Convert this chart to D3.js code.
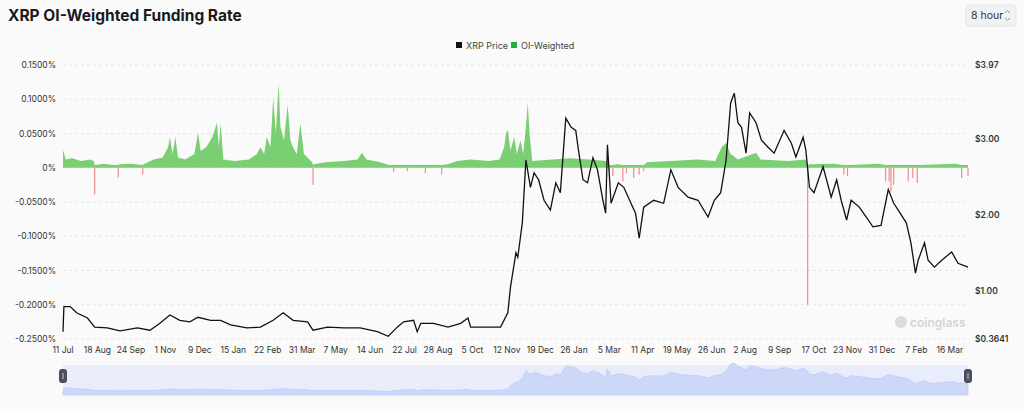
<!DOCTYPE html>
<html><head><meta charset="utf-8">
<script src="https://cdn.jsdelivr.net/npm/d3@7/dist/d3.min.js"></script>
<style>body{margin:0;background:#fafafa;font-family:"Inter","Noto Sans",sans-serif}</style>
</head><body><svg id="c" width="1024" height="411"></svg>
<script>
const tickLabels = ["11 Jul","18 Aug","24 Sep","1 Nov","9 Dec","15 Jan","22 Feb","31 Mar","7 May","14 Jun","22 Jul","28 Aug","5 Oct","12 Nov","19 Dec","26 Jan","5 Mar","11 Apr","19 May","26 Jun","2 Aug","9 Sep","17 Oct","23 Nov","31 Dec","7 Feb","16 Mar"];
const tickDays = [0,38,75,113,151,188,226,264,301,339,377,414,452,490,527,564,603,640,678,716,753,791,829,866,904,942,979];
const leftTicks = [0.15,0.10,0.05,0,-0.05,-0.10,-0.15,-0.20,-0.25];
const rightTicks = [3.97,3.00,2.00,1.00,0.3641];
const priceDays = [0,1,8,15,27,35,49,63,82,96,107,118,129,140,149,163,174,185,203,218,232,243,254,270,276,292,310,328,347,359,369,376,387,391,395,409,425,439,447,450,469,483,491,494,500,502,507,511,516,520,525,531,538,544,549,555,561,566,569,574,579,585,590,596,599,601,605,613,619,627,632,636,641,652,663,671,679,690,701,712,719,726,732,737,741,745,749,754,758,765,771,778,785,796,804,809,817,820,824,829,839,848,854,859,865,870,879,889,894,903,911,917,922,931,936,941,944,951,955,962,970,981,988,999];
const priceVals = [0.46,0.79,0.79,0.71,0.64,0.52,0.51,0.47,0.51,0.48,0.57,0.68,0.61,0.59,0.65,0.61,0.61,0.55,0.51,0.52,0.61,0.71,0.61,0.59,0.48,0.52,0.51,0.51,0.46,0.40,0.52,0.59,0.61,0.46,0.57,0.57,0.52,0.57,0.64,0.52,0.52,0.52,0.71,1.05,1.50,1.44,1.89,2.72,2.36,2.55,2.46,2.19,2.06,2.42,2.29,3.27,3.15,3.11,2.85,2.46,2.42,2.75,2.59,2.19,2.02,2.92,2.15,2.42,2.36,2.15,2.02,1.69,2.10,2.19,2.15,2.59,2.36,2.23,2.19,1.97,2.19,2.29,2.72,3.47,3.60,3.21,3.15,2.81,3.34,3.21,2.98,2.89,2.81,3.11,2.94,2.76,3.02,2.85,2.36,2.29,2.63,2.23,2.46,2.19,1.93,2.19,2.10,1.93,1.84,1.86,2.33,2.15,2.06,1.89,1.63,1.23,1.40,1.63,1.40,1.31,1.40,1.51,1.36,1.31];
const fundDays = [0,3,10,20,30,34,35,36,45,55,61,62,75,88,89,100,110,116,118,121,124,127,135,145,149,152,158,165,170,172,174,177,190,205,214,218,222,225,229,232,235,238,240,244,248,251,254,258,262,266,272,275,276,277,290,310,325,330,335,350,360,365,370,380,390,400,410,418,425,435,450,470,482,487,489,491,494,498,501,505,508,511,513,515,518,540,560,580,600,603,607,612,618,622,630,636,641,645,670,700,720,727,732,737,745,765,770,800,820,822,824,850,862,866,870,900,908,912,914,917,921,933,938,943,946,985,992,999];
const fundVals = [0.026,0.012,0.014,0.01,0.012,0.01,-0.039,0.004,0.006,0.003,-0.014,0.005,0.006,-0.01,0.005,0.012,0.015,0.03,0.044,0.02,0.045,0.015,0.012,0.02,0.051,0.025,0.03,0.045,0.066,0.03,0.065,0.012,0.01,0.012,0.02,0.03,0.02,0.045,0.03,0.102,0.05,0.124,0.06,0.04,0.092,0.04,0.03,0.02,0.065,0.02,0.012,0.008,-0.025,0.005,0.008,0.01,0.012,0.022,0.012,0.008,0.004,-0.006,0.004,-0.005,0.003,-0.008,0.004,-0.01,0.005,0.01,0.012,0.01,0.012,0.03,0.05,0.055,0.025,0.045,0.02,0.04,0.02,0.06,0.095,0.05,0.01,0.012,0.014,0.012,0.01,-0.005,-0.012,0.005,-0.02,-0.008,-0.015,-0.01,-0.005,0.008,0.01,0.012,0.01,0.03,0.036,0.02,0.012,0.022,0.012,0.01,0.012,-0.2,0.005,0.006,-0.01,-0.012,0.004,0.006,-0.02,-0.02,-0.035,-0.025,0.003,-0.02,-0.015,-0.022,0.004,0.006,-0.015,-0.012];

const svg = d3.select("#c");
const L=63, R=968, T=65, B=339;
const x = d3.scaleLinear().domain([0,999]).range([L,R]);
const yF = d3.scaleLinear().domain([-0.25,0.15]).range([B,T]);
const yP = d3.scaleLinear().domain([0.3641,3.97]).range([B,T]);

svg.append("text").attr("x",8).attr("y",21).text("XRP OI-Weighted Funding Rate").attr("font-size",15.5).attr("font-weight",700).attr("fill","#1a1a1a");
const btn=svg.append("g");
btn.append("rect").attr("x",966).attr("y",5).attr("width",50).attr("height",21).attr("rx",3).attr("fill","#f1f2f4").attr("stroke","#e2e4e8");
btn.append("text").attr("x",971).attr("y",19).text("8 hour").attr("font-size",10.5).attr("fill","#333");
btn.append("path").attr("d","M1005,13 l2.5,-2.5 l2.5,2.5 M1005,18 l2.5,2.5 l2.5,-2.5").attr("fill","none").attr("stroke","#888").attr("stroke-width",0.9);

const lg=svg.append("g").attr("font-size",9).attr("fill","#444");
lg.append("rect").attr("x",456).attr("y",42).attr("width",6).attr("height",6).attr("fill","#111");
lg.append("text").attr("x",466).attr("y",49).text("XRP Price");
lg.append("rect").attr("x",511).attr("y",42).attr("width",6).attr("height",6).attr("fill","#27ae3f");
lg.append("text").attr("x",521).attr("y",49).text("OI-Weighted");

svg.append("g").selectAll("line").data(leftTicks).join("line")
 .attr("x1",L).attr("x2",R).attr("y1",d=>yF(d)).attr("y2",d=>yF(d))
 .attr("stroke","#e6e6e6").attr("stroke-dasharray","3,3");
svg.append("g").selectAll("text").data(leftTicks).join("text")
 .attr("x",56).attr("y",d=>yF(d)+3).attr("text-anchor","end").attr("font-size",8.5).attr("fill","#333")
 .text(d=>d===0?"0%":d.toFixed(4)+"%");
svg.append("g").selectAll("text").data(rightTicks).join("text")
 .attr("x",975).attr("y",d=>yP(d)+3).attr("font-size",8.5).attr("fill","#333").attr("font-weight",600)
 .text(d=>"$"+(d===0.3641?"0.3641":d.toFixed(2)));
svg.append("g").selectAll("text").data(tickDays).join("text")
 .attr("x",d=>x(d)).attr("y",353).attr("text-anchor","middle").attr("font-size",8.5).attr("fill","#333")
 .text((d,i)=>tickLabels[i]);

// funding: positive as area, negatives as thin spikes
const fd = fundDays.map((d,i)=>({d,v:fundVals[i]}));
const pos = fd.map(p=>({d:p.d,v:Math.max(p.v,0.004)}));
svg.append("path").attr("d",d3.area().x(p=>x(p.d)).y0(yF(0)).y1(p=>yF(p.v))(pos)).attr("fill","#7acf72");
svg.append("g").selectAll("rect").data(fd.filter(p=>p.v<0)).join("rect")
 .attr("x",p=>x(p.d)-0.6).attr("width",1.2).attr("y",yF(0)).attr("height",p=>yF(p.v)-yF(0)).attr("fill","#f08c8c");

const pd = priceDays.map((d,i)=>({d,v:priceVals[i]}));
svg.append("path").attr("d",d3.line().x(p=>x(p.d)).y(p=>yP(p.v))(pd)).attr("fill","none").attr("stroke","#111").attr("stroke-width",1.3);

svg.append("text").attr("x",910).attr("y",327).text("coinglass").attr("font-size",12).attr("font-weight",600).attr("fill","#d4d4d4");
svg.append("circle").attr("cx",901).attr("cy",322).attr("r",6).attr("fill","#dcdcdc");

svg.append("rect").attr("x",L).attr("y",365).attr("width",R-L).attr("height",30).attr("fill","#e9edfb");
const yN = d3.scaleLinear().domain([0,3.97]).range([395,360]);
svg.append("path").attr("d",d3.area().x(p=>x(p.d)).y0(395).y1(p=>yN(p.v))(pd)).attr("fill","#cdd8f8").attr("stroke","#b9c7f3").attr("stroke-width",0.7);
[L,R].forEach(px=>{svg.append("rect").attr("x",px-4).attr("y",369).attr("width",8).attr("height",14).attr("rx",3).attr("fill","#4a5060");
 svg.append("line").attr("x1",px).attr("x2",px).attr("y1",373).attr("y2",379).attr("stroke","#ccc");});
</script></body></html>
